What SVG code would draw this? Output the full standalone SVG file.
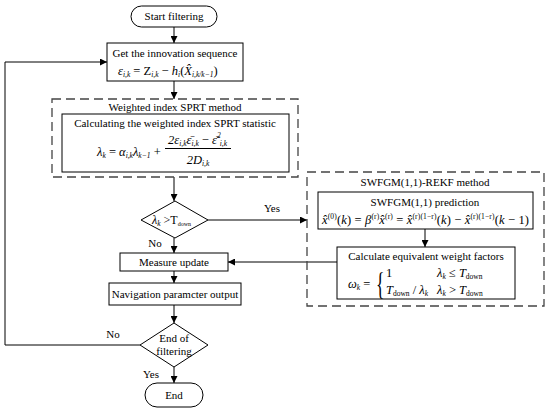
<svg xmlns="http://www.w3.org/2000/svg" width="550" height="412" viewBox="0 0 550 412">
<defs>
<marker id="arr" viewBox="0 0 10 10" refX="10" refY="5" markerWidth="7" markerHeight="7" orient="auto" markerUnits="userSpaceOnUse">
<path d="M0,0 L10,5 L0,10 z" fill="#000"/>
</marker>
</defs>
<style>
.box{fill:#fff;stroke:#000;stroke-width:1}
.dash{fill:none;stroke:#444;stroke-width:1.3;stroke-dasharray:9,5}
.ln{fill:none;stroke:#000;stroke-width:1}
.t{font-family:"Liberation Serif","Times New Roman",serif;font-size:11px;fill:#000;text-anchor:middle}
.m{font-family:"Liberation Serif","Times New Roman",serif;font-size:12.5px;fill:#000;font-style:italic}
.r{font-style:normal}
.s{font-size:7.5px}
.xs{font-size:6px}
</style>
<rect width="550" height="412" fill="#fff"/>

<g id="connectors">
<line class="ln" x1="174" y1="27" x2="174" y2="43" marker-end="url(#arr)"/>
<line class="ln" x1="174" y1="81" x2="174" y2="99" marker-end="url(#arr)"/>
<line class="ln" x1="174" y1="177" x2="174" y2="201" marker-end="url(#arr)"/>
<line class="ln" x1="208" y1="220" x2="307" y2="220" marker-end="url(#arr)"/>
<line class="ln" x1="174" y1="238" x2="174" y2="253" marker-end="url(#arr)"/>
<line class="ln" x1="174" y1="271" x2="174" y2="283" marker-end="url(#arr)"/>
<line class="ln" x1="174" y1="305" x2="174" y2="323" marker-end="url(#arr)"/>
<line class="ln" x1="174" y1="367" x2="174" y2="383" marker-end="url(#arr)"/>
<polyline class="ln" points="140,345 5,345 5,62 107,62" marker-end="url(#arr)"/>
<line class="ln" x1="425" y1="229" x2="425" y2="247" marker-end="url(#arr)"/>
<line class="ln" x1="337" y1="262" x2="228" y2="262" marker-end="url(#arr)"/>
<text class="t" x="272" y="212">Yes</text>
<text class="t" x="155" y="247">No</text>
<text class="t" x="113" y="338">No</text>
<text class="t" x="151" y="378">Yes</text>
</g>

<g id="start">
<rect class="box" x="131" y="6" width="86" height="21" rx="10.5"/>
<text class="t" x="174" y="20">Start filtering</text>
</g>

<g id="innovation">
<rect class="box" x="107" y="43" width="136" height="38"/>
<text class="t" x="175" y="57">Get the innovation sequence</text>
<text class="m" x="118" y="75">ε<tspan class="s" dy="2">i,k</tspan><tspan class="r" dy="-2"> = Z</tspan><tspan class="s" dy="2">i,k</tspan><tspan class="r" dy="-2"> − </tspan>h<tspan class="s" dy="2">i</tspan><tspan class="r" dy="-2">(</tspan>X̂<tspan class="s" dy="2">i,k/k−1</tspan><tspan class="r" dy="-2">)</tspan></text>
</g>

<g id="sprt-method">
<rect class="dash" x="52" y="99" width="246" height="78"/>
<text class="t" x="175" y="111">Weighted index SPRT method</text>
</g>

<g id="sprt-statistic">
<rect class="box" x="62" y="114" width="227" height="58"/>
<text class="t" x="175" y="127">Calculating the weighted index SPRT statistic</text>
<text class="m" x="97" y="156">λ<tspan class="s" dy="2">k</tspan><tspan class="r" dy="-2"> = </tspan>α<tspan class="s" dy="2">i,k</tspan><tspan dy="-2">λ</tspan><tspan class="s" dy="2">k−1</tspan><tspan class="r" dy="-2"> +</tspan></text>
<text class="m" x="168" y="144">2ε<tspan class="s" dy="2">i,k</tspan><tspan dy="-2">ε̄</tspan><tspan class="s" dy="2">i,k</tspan><tspan class="r" dy="-2"> − </tspan>ε̄<tspan class="s" dy="-6">2</tspan><tspan class="s" dx="-1" dy="8">i,k</tspan></text>
<line class="ln" x1="165" y1="148.5" x2="231" y2="148.5"/>
<text class="m" x="198" y="164" text-anchor="middle">2D<tspan class="s" dy="2">i,k</tspan></text>
</g>

<g id="threshold">
<polygon class="box" points="175,201 208,220 175,238 141,220"/>
<text class="m" x="152" y="224" style="font-size:12px">λ<tspan class="s" dy="2">k</tspan><tspan class="r" dy="-2"> &gt;T</tspan><tspan class="xs r" dy="2">down</tspan></text>
</g>

<g id="swfgm-method">
<rect class="dash" x="307" y="172" width="237" height="134"/>
<text class="t" x="425" y="186">SWFGM(1,1)-REKF method</text>
</g>

<g id="swfgm-prediction">
<rect class="box" x="318" y="192" width="215" height="37"/>
<text class="t" x="425" y="206">SWFGM(1,1) prediction</text>
<text class="m" x="322" y="224" textLength="207">x̂<tspan class="s r" dy="-5">(0)</tspan><tspan class="r" dy="5">(</tspan>k<tspan class="r">) = </tspan>β<tspan class="s r" dy="-5">(r)</tspan><tspan dy="5">x̂</tspan><tspan class="s r" dy="-5">(r)</tspan><tspan class="r" dy="5"> = </tspan>x̂<tspan class="s r" dy="-5">(r)(1−r)</tspan><tspan class="r" dy="5">(</tspan>k<tspan class="r">) − </tspan>x̂<tspan class="s r" dy="-5">(r)(1−r)</tspan><tspan class="r" dy="5">(</tspan>k<tspan class="r"> − 1)</tspan></text>
</g>

<g id="weight-factors">
<rect class="box" x="337" y="247" width="178" height="52"/>
<text class="t" x="426" y="260">Calculate equivalent weight factors</text>
<text class="m" x="348" y="288">ω<tspan class="s" dy="2">k</tspan><tspan class="r" dy="-2"> =</tspan></text>
<text class="m r" x="0" y="0" style="font-size:32px" transform="translate(376,295) scale(0.55,1)">{</text>
<text class="m r" x="386" y="277">1</text>
<text class="m" x="437" y="277">λ<tspan class="s" dy="2">k</tspan><tspan class="r" dy="-2"> ≤ </tspan>T<tspan class="s r" dy="2">down</tspan></text>
<text class="m" x="386" y="294">T<tspan class="s r" dy="2">down</tspan><tspan class="r" dy="-2"> / </tspan>λ<tspan class="s" dy="2">k</tspan></text>
<text class="m" x="437" y="294">λ<tspan class="s" dy="2">k</tspan><tspan class="r" dy="-2"> &gt; </tspan>T<tspan class="s r" dy="2">down</tspan></text>
</g>

<g id="measure-update">
<rect class="box" x="120" y="253" width="108" height="18"/>
<text class="t" x="174" y="266">Measure update</text>
</g>

<g id="navigation-output">
<rect class="box" x="109" y="283" width="132" height="22"/>
<text class="t" x="175" y="298">Navigation paramcter output</text>
</g>

<g id="end-check">
<polygon class="box" points="174,323 208,345 174,367 140,345"/>
<text class="t" x="174" y="342">End of</text>
<text class="t" x="174" y="355">filtering</text>
</g>

<g id="end">
<rect class="box" x="145" y="383" width="58" height="24" rx="12"/>
<text class="t" x="174" y="399">End</text>
</g>
</svg>
